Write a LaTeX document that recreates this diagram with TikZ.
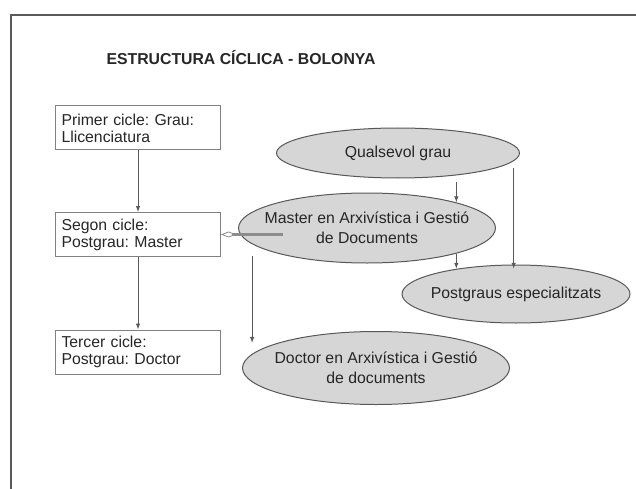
\documentclass[tikz,border=0pt]{standalone}
\usepackage{fontspec}
\setmainfont{Liberation Sans}
\frenchspacing
\usepackage{tikz}
\usetikzlibrary{shapes.geometric, arrows.meta, positioning, calc}
\definecolor{framegray}{RGB}{90,90,90}
\definecolor{boxgray}{RGB}{128,128,128}
\definecolor{ovalfill}{RGB}{214,214,214}
\definecolor{ovalline}{RGB}{88,88,88}
\definecolor{inkgray}{RGB}{38,38,38}
\definecolor{bargray}{RGB}{140,140,140}

\begin{document}
\begin{tikzpicture}[x=1pt, y=-1pt,
  txt/.style={text=inkgray, font=\fontsize{15.8}{17}\selectfont},
  stage/.style={txt, draw=boxgray, line width=1pt, rectangle, minimum width=165pt, minimum height=44pt, text width=153pt, inner xsep=6pt, align=left},
  oval/.style={txt, font=\fontsize{15.8}{20}\selectfont, draw=ovalline, line width=1pt, fill=ovalfill, ellipse, inner xsep=-12pt, inner ysep=0pt, align=center},
  conn/.style={draw=framegray, line width=0.9pt, -{Latex[length=6pt, width=4.5pt]}},
  bar/.style={draw=bargray, line width=3.5pt, -{Diamond[open, length=15pt, width=6pt, line width=0.8pt]}}]
\useasboundingbox (0,0) rectangle (636,489);

% Frame
\draw[framegray, line width=1.8pt] (11,489) -- (11,15) -- (636,15);

% Title
\node[txt, font=\fontsize{15.8}{17}\selectfont\bfseries] (title) at (241,58) {ESTRUCTURA CÍCLICA - BOLONYA};

% Cycles
\node[stage] (box1) at (138,128) {Primer cicle: Grau:\\Llicenciatura};
\node[stage] (box2) at (138,234.5) {Segon cicle:\\Postgrau: Master};
\node[stage] (box3) at (138,352) {Tercer cicle:\\Postgrau: Doctor};

% Arrows
\draw[conn] (box1) -- (box2);
\draw[conn] (box2) -- (box3);

% Studies
\node[oval, minimum width=243pt, minimum height=50pt] (qual) at (398,153) {Qualsevol grau};
\node[oval, minimum width=257pt, minimum height=70pt] (mast) at (367,228) {Master en Arxivística i Gestió\\de Documents};
\node[oval, minimum width=228pt, minimum height=58pt] (post) at (516,294) {Postgraus especialitzats};
\node[oval, minimum width=267pt, minimum height=73pt] (doc) at (376,368) {Doctor en Arxivística i Gestió\\de documents};

% Arrows
\draw[conn, shorten <=7pt] (qual.-21) -- (qual.-21 |- mast.16);
\draw[conn, shorten <=7pt] (qual.-4) -- (qual.-4 |- post.157);
\draw[conn] (mast.-16) -- (mast.-16 |- post.157);
\draw[conn, shorten <=12pt, shorten >=10pt] (mast.188) -- (mast.188 |- doc.173);

% Master to second cycle
\coordinate (barend) at (283,234.5);
\draw[bar] (barend) -- (box2.east);
\end{tikzpicture}
\end{document}
